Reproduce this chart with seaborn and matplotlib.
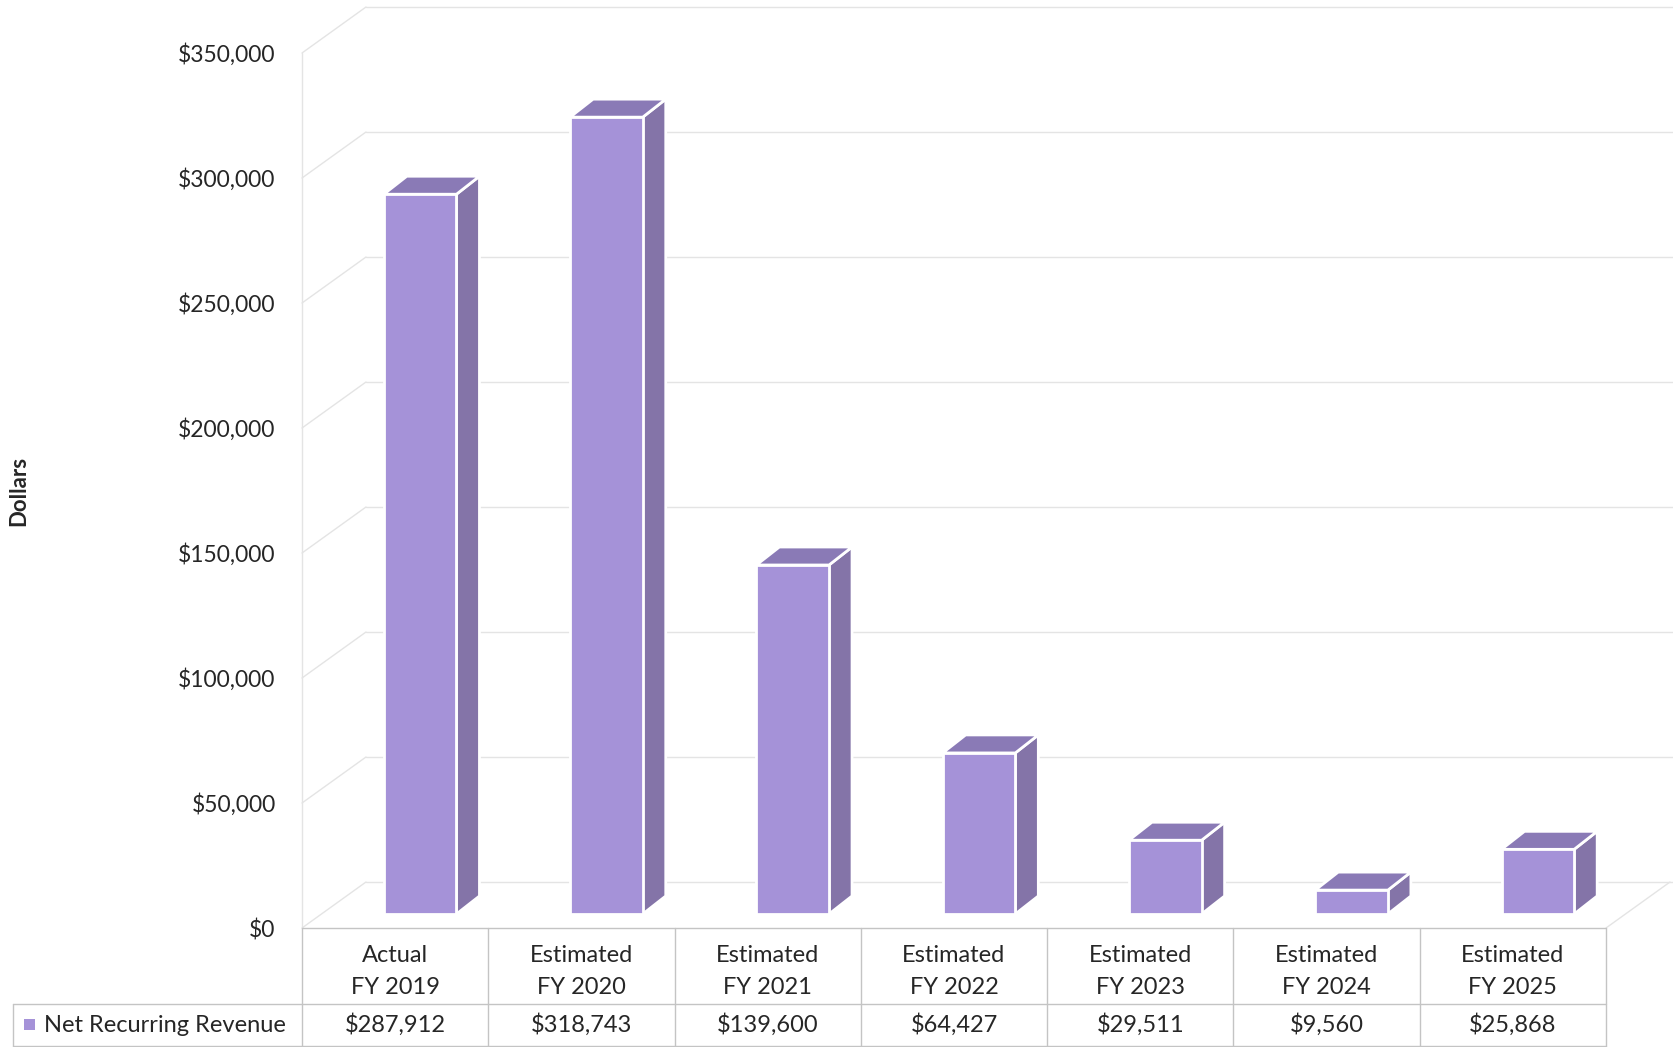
import matplotlib
matplotlib.use("Agg")
import matplotlib.pyplot as plt
import seaborn as sns
import pandas as pd
from matplotlib.transforms import Affine2D, IdentityTransform, blended_transform_factory
from matplotlib.patches import Polygon, Rectangle
from matplotlib.lines import Line2D

# ---------------- data ----------------
status = ["Actual", "Estimated", "Estimated", "Estimated", "Estimated", "Estimated", "Estimated"]
fiscal_years = ["FY 2019", "FY 2020", "FY 2021", "FY 2022", "FY 2023", "FY 2024", "FY 2025"]
revenue = [287912, 318743, 139600, 64427, 29511, 9560, 25868]
y_ticks = [0, 50000, 100000, 150000, 200000, 250000, 300000, 350000]
series_name = "Net Recurring Revenue"
y_title = "Dollars"

# ---------------- style ----------------
W, H = 1673, 1047
sns.set_theme(style="white")
plt.rcParams['font.family'] = ['Lato', 'DejaVu Sans']
TXT = "#262626"
FRONT = "#A592D8"
SIDE = "#8474A8"
TOP = "#8A7AB6"
GRID = "#E4E4E4"
TABLE = "#C4C4C4"

fig = plt.figure(figsize=(W / 100, H / 100), dpi=100)
fig.patch.set_facecolor("white")

# front plane of the chart (image pixel coords, y from top)
X0, X1 = 302, 1606
Y0, Y1 = 928, 53
ax = fig.add_axes([X0 / W, (H - Y0) / H, (X1 - X0) / W, (Y0 - Y1) / H])
ax.patch.set_visible(False)

cats = [f"{s}\n{f}" for s, f in zip(status, fiscal_years)]
df = pd.DataFrame({"cat": cats, "value": revenue})
sns.barplot(data=df, x="cat", y="value", order=cats, color=FRONT, saturation=1,
            width=0.39, edgecolor="white", linewidth=2, ax=ax, zorder=2)
ax.set_xlim(-0.5, 6.5)
ax.set_ylim(0, 350000)
bars = list(ax.patches)

for s in ax.spines.values():
    s.set_visible(False)
ax.set_xlabel("")
ax.set_ylabel("")
ax.tick_params(axis="x", labelbottom=False, length=0)
ax.set_yticks(y_ticks)
ax.set_yticklabels([f"${v:,.0f}" for v in y_ticks])
ax.tick_params(axis="y", length=0, pad=19, labelsize=16.5, labelcolor=TXT)

BAR_OFF = (25, 14)     # display px: bar front plane relative to front plane
BAR_DEPTH = (23, 18)   # display px
WALL = (64, 46)        # display px: front plane -> back wall

ident = IdentityTransform()
off = Affine2D().translate(*BAR_OFF)
for p in bars:
    p.set_transform(ax.transData + off)
    x, w, h = p.get_x(), p.get_width(), p.get_height()
    (xl, yb) = ax.transData.transform((x, 0))
    (xr, yt) = ax.transData.transform((x + w, h))
    xl += BAR_OFF[0]; xr += BAR_OFF[0]; yb += BAR_OFF[1]; yt += BAR_OFF[1]
    dx, dy = BAR_DEPTH
    side = Polygon([(xr, yb), (xr, yt), (xr + dx, yt + dy), (xr + dx, yb + dy)],
                   closed=True, facecolor=SIDE, edgecolor="white", linewidth=2,
                   transform=ident, clip_on=False, zorder=1.9)
    top = Polygon([(xl, yt), (xr, yt), (xr + dx, yt + dy), (xl + dx, yt + dy)],
                  closed=True, facecolor=TOP, edgecolor="white", linewidth=2,
                  transform=ident, clip_on=False, zorder=1.9)
    ax.add_patch(side)
    ax.add_patch(top)

# walls / gridlines
def dline(xs, ys, color=GRID, lw=1.0, z=0.5):
    ax.add_line(Line2D(xs, ys, color=color, linewidth=lw, transform=ident,
                       clip_on=False, zorder=z))

xl_d = ax.transData.transform((-0.5, 0))[0]
xr_d = ax.transData.transform((6.5, 0))[0]
for v in y_ticks:
    yd = ax.transData.transform((0, v))[1]
    dline([xl_d + WALL[0], W], [yd + WALL[1], yd + WALL[1]])
    dline([xl_d, xl_d + WALL[0]], [yd, yd + WALL[1]])
y0d = ax.transData.transform((0, 0))[1]
y1d = ax.transData.transform((0, 350000))[1]
dline([xl_d, xl_d], [y0d, y1d])
dline([xr_d, xr_d + WALL[0]], [y0d, y0d + WALL[1]])

# ---------------- data table ----------------
row_mid = 1004   # image y
row_bot = 1046
bx = blended_transform_factory(ax.transData, ident)
dline([xl_d, xr_d], [y0d, y0d], color=TABLE, z=3)
dline([13, xr_d], [H - row_mid, H - row_mid], color=TABLE, z=3)
dline([13, xr_d], [H - row_bot, H - row_bot], color=TABLE, z=3)
dline([13, 13], [H - row_mid, H - row_bot], color=TABLE, z=3)
for k in range(len(cats) + 1):
    xk = ax.transData.transform((k - 0.5, 0))[0]
    dline([xk, xk], [y0d, H - row_bot], color=TABLE, z=3)

for i, (s, f, v) in enumerate(zip(status, fiscal_years, revenue)):
    ax.text(i, H - 956, s, transform=bx, ha="center", va="center",
            fontsize=17, color=TXT)
    ax.text(i, H - 988, f, transform=bx, ha="center", va="center",
            fontsize=17, color=TXT)
    ax.text(i, H - 1025, f"${v:,.0f}", transform=bx, ha="center", va="center",
            fontsize=17, color=TXT)

ax.add_patch(Rectangle((24, H - 1030), 11, 11, facecolor=FRONT, edgecolor="none",
                       transform=ident, clip_on=False, zorder=3))
ax.text(44, H - 1025, series_name, transform=ident, ha="left", va="center",
        fontsize=17, color=TXT)

fig.text(19 / W, (H - 491) / H, y_title, rotation=90, ha="center", va="center",
         fontsize=16, fontweight="bold", color=TXT)

fig.savefig("out.png", dpi=100, facecolor="white")
